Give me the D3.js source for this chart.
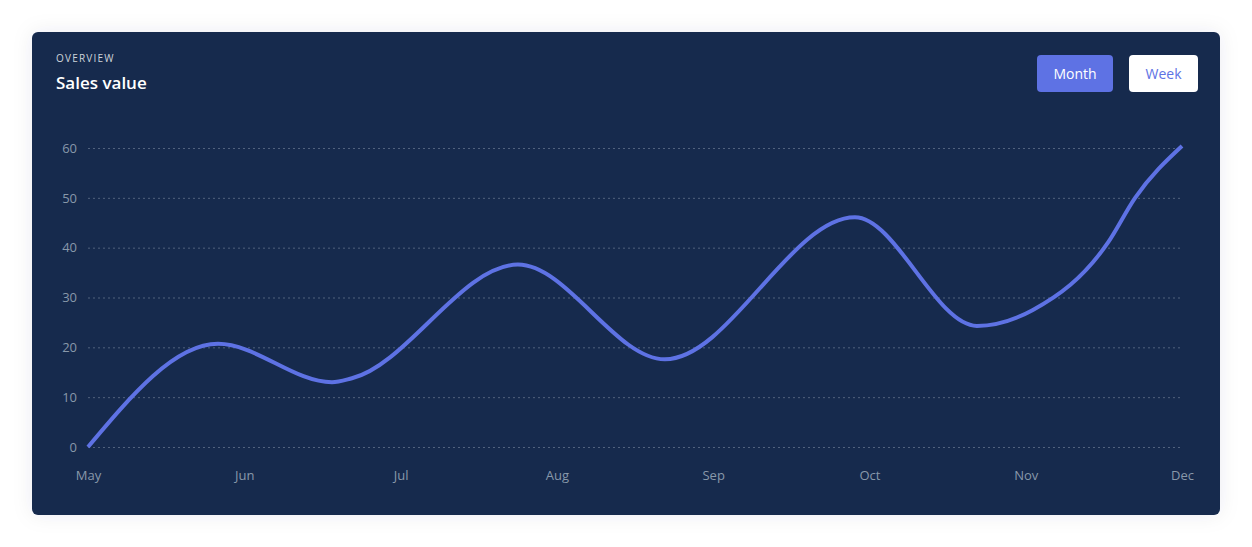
<!doctype html>
<html>
  <head>
    <script src="https://d3js.org/d3.v7.min.js" type="text/javascript"></script>
    <style>
      body { margin: 0; background: #ffffff; font-family: "Open Sans", sans-serif; }
    </style>
  </head>

  <body>
    <script type="text/javascript">
    /***********************************************/
    /********************* Data ********************/
    /***********************************************/

    // x is measured in months after May (0 = May, 7 = Dec)
    var monthLabels = ['May', 'Jun', 'Jul', 'Aug', 'Sep', 'Oct', 'Nov', 'Dec'];
    var salesMonth  = [0, 0.832, 1.561, 1.689, 2.751, 3.691, 4.907, 5.688, 6.046, 6.526, 6.7, 7];
    var salesValue  = [0, 20.7, 13.0, 13.8, 36.6, 17.6, 46.1, 24.3, 27.5, 41, 50, 60.4];
    var yTicks      = [0, 10, 20, 30, 40, 50, 60];

    /***********************************************/
    /********** Const and Var declarations *********/
    /***********************************************/

    var width = 1252, height = 547;
    const card   = { x: 32, y: 32, w: 1188, h: 483 };
    const plot   = { left: 88, right: 1182, top: 148, bottom: 447 };
    const indigo = '#5e72e4';

    const xScale = d3.scaleLinear().domain([0, monthLabels.length - 1]).range([plot.left, plot.right]);
    const yScale = d3.scaleLinear().domain([0, 60]).range([plot.bottom, plot.top]);

    const points = salesMonth.map((m, i) => ({ m: m, v: salesValue[i] }));

    const svg = d3.select('body')
                  .append('svg')
                   .attr('width', width)
                   .attr('height', height);

    /***********************************************/
    /******************** Card *********************/
    /***********************************************/

    const filter = svg.append('defs').append('filter')
                      .attr('id', 'shadow')
                      .attr('x', '-5%').attr('y', '-10%')
                      .attr('width', '110%').attr('height', '120%');
    filter.append('feDropShadow')
          .attr('dx', 0).attr('dy', 0)
          .attr('stdDeviation', 10)
          .attr('flood-color', '#32325d')
          .attr('flood-opacity', 0.08);

    svg.append('rect')
       .attr('x', card.x).attr('y', card.y)
       .attr('width', card.w).attr('height', card.h)
       .attr('rx', 6)
       .attr('fill', '#172b4d')
       .attr('filter', 'url(#shadow)');

    svg.append('text')
       .attr('x', 56).attr('y', 62)
       .attr('fill', '#ced4da')
       .style('font-size', '10px')
       .style('font-weight', 400)
       .style('letter-spacing', '1.2px')
       .text('OVERVIEW');

    svg.append('text')
       .attr('x', 56).attr('y', 89)
       .attr('fill', '#ffffff')
       .style('font-size', '17px')
       .style('font-weight', 600)
       .text('Sales value');

    // Month / Week toggle
    var buttons = [
      { label: 'Month', x: 1037, w: 76, fill: indigo,    color: '#ffffff' },
      { label: 'Week',  x: 1129, w: 69, fill: '#ffffff', color: indigo }
    ];
    const btnG = svg.selectAll('g.btn')
                    .data(buttons)
                    .enter()
                    .append('g')
                     .attr('class', 'btn');
    btnG.append('rect')
        .attr('x', d => d.x).attr('y', 55)
        .attr('width', d => d.w).attr('height', 37)
        .attr('rx', 4)
        .attr('fill', d => d.fill);
    btnG.append('text')
        .attr('x', d => d.x + d.w / 2).attr('y', 79)
        .attr('text-anchor', 'middle')
        .attr('fill', d => d.color)
        .style('font-size', '14px')
        .text(d => d.label);

    /***********************************************/
    /******************** Axes *********************/
    /***********************************************/

    const yAxis = d3.axisLeft(yScale)
                    .tickValues(yTicks)
                    .tickSize(-(plot.right - plot.left))
                    .tickPadding(11);

    const yG = svg.append('g')
                  .attr('transform', 'translate(' + plot.left + ',0)')
                  .call(yAxis);
    yG.select('.domain').remove();
    yG.selectAll('line')
      .attr('stroke', '#6b7a93')
      .attr('stroke-opacity', 0.7)
      .attr('stroke-dasharray', '2,3');
    yG.selectAll('text')
      .attr('fill', '#8898aa')
      .style('font-family', '"Open Sans", sans-serif')
      .style('font-size', '13px');

    const xAxis = d3.axisBottom(xScale)
                    .tickValues(d3.range(monthLabels.length))
                    .tickFormat(i => monthLabels[i])
                    .tickSize(0)
                    .tickPadding(0);

    const xG = svg.append('g')
                  .attr('transform', 'translate(0,' + 471 + ')')
                  .call(xAxis);
    xG.select('.domain').remove();
    xG.selectAll('text')
      .attr('fill', '#8898aa')
      .style('font-family', '"Open Sans", sans-serif')
      .style('font-size', '13px');

    /***********************************************/
    /******************** Line *********************/
    /***********************************************/

    const line = d3.line()
                   .x(d => xScale(d.m))
                   .y(d => yScale(d.v))
                   .curve(d3.curveMonotoneX);

    svg.append('path')
       .datum(points)
       .attr('d', line)
       .attr('fill', 'none')
       .attr('stroke', indigo)
       .attr('stroke-width', 4)
       .attr('stroke-linejoin', 'round');
    </script>
  </body>
</html>
